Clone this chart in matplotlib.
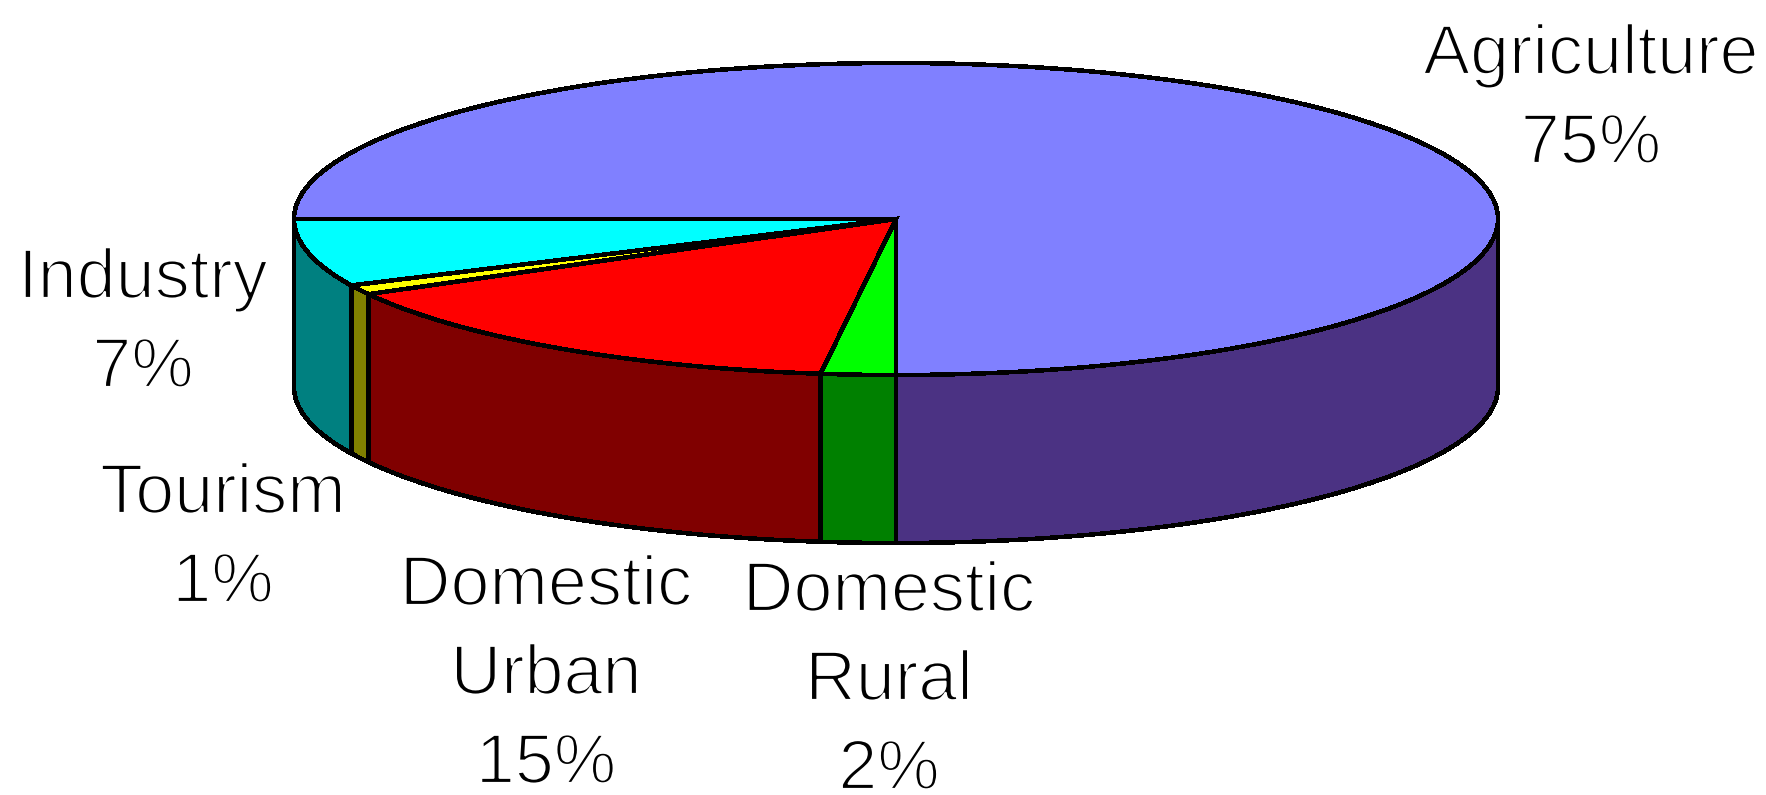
import numpy as np
import matplotlib
matplotlib.use("Agg")
import matplotlib.pyplot as plt
from matplotlib.patches import Polygon
import matplotlib.patheffects as pe

plt.rcParams["font.family"] = ["Liberation Sans", "DejaVu Sans"]

# clockwise from the left edge of the pie
categories = ["Agriculture", "Domestic\nRural", "Domestic\nUrban", "Tourism", "Industry"]
values = [75, 2, 15, 1, 7]
top_colors = ["#8080FF", "#00FF00", "#FF0000", "#FFFF00", "#00FFFF"]
side_colors = ["#4B3283", "#008000", "#800000", "#808000", "#008080"]
# first-line baseline of each label, in pixels
label_x = [1591, 889, 546, 223, 143]
label_y = [74, 611, 605, 513, 298]

CX, CY = 896, 219
RX, RY = 602, 156
DEPTH = 168
LINE_GAP = 89
LW = 3.5 * 72 / 100


def arc(a0, a1):
    t = np.radians(np.linspace(a0, a1, max(int(abs(a1 - a0)) * 4, 12)))
    return np.column_stack([CX + RX * np.cos(t), CY - RY * np.sin(t)])


fig = plt.figure(figsize=(17.66, 7.95), dpi=100)
ax = fig.add_axes([0, 0, 1, 1])
ax.set_xlim(0, 1766)
ax.set_ylim(795, 0)
ax.axis("off")

edges = 180 - np.cumsum([0] + values) * 3.6

# walls of the front half only
for i in range(len(values)):
    top = arc(min(edges[i], 0), edges[i + 1])
    bottom = top[::-1] + [0, DEPTH]
    ax.add_patch(Polygon(np.vstack([top, bottom]), closed=True, fc=side_colors[i],
                         ec="black", lw=LW, joinstyle="miter", antialiased=False))

# top faces
for i in range(len(values)):
    pts = np.vstack([[CX, CY], arc(edges[i], edges[i + 1])])
    ax.add_patch(Polygon(pts, closed=True, fc=top_colors[i], ec="black", lw=LW,
                         joinstyle="miter", antialiased=False))

# thin the glyphs down to the hairline look of the original
thin = [pe.Normal(), pe.Stroke(linewidth=1.6, foreground="white")]
for name, pct, x, y in zip(categories, values, label_x, label_y):
    lines = name.split("\n") + [f"{pct}%"]
    for n, line in enumerate(lines):
        ax.text(x, y + n * LINE_GAP, line, fontsize=50.5, ha="center", va="baseline",
                color="black", path_effects=thin)

fig.savefig("out.png", dpi=100)
